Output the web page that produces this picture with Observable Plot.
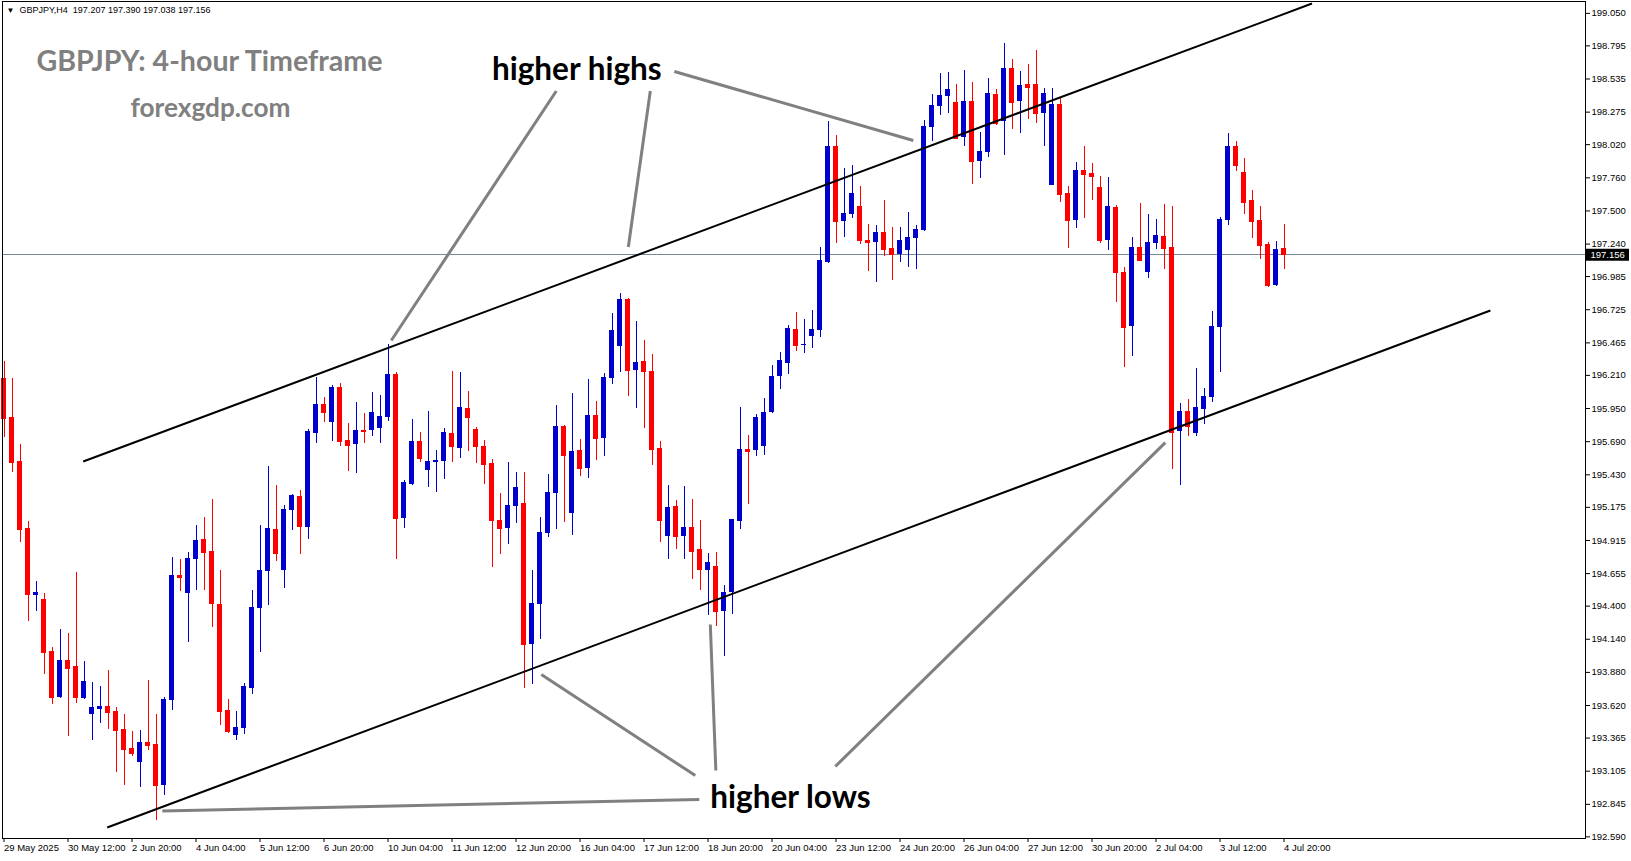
<!DOCTYPE html>
<html><head><meta charset="utf-8">
<script src="https://cdn.jsdelivr.net/npm/d3@7"></script>
<script src="https://cdn.jsdelivr.net/npm/@observablehq/plot@0.6"></script>
<style>html,body{margin:0;padding:0;background:#fff;} svg{display:block}</style>
</head><body><div id="chart"></div>
<script>
const opens = [196.188,195.882,195.534,195.009,194.486,194.452,194.044,193.685,193.973,193.926,193.678,193.552,193.591,193.612,193.576,193.434,193.285,193.175,193.332,193.317,192.995,193.662,194.643,194.501,194.768,194.925,194.831,194.415,193.583,193.387,193.442,193.756,194.384,194.674,195.001,194.679,195.150,195.262,195.019,195.756,195.982,195.843,196.115,195.699,195.670,195.780,195.780,195.796,195.882,196.219,195.090,195.354,195.691,195.466,195.529,195.534,195.754,195.639,195.953,195.785,195.654,195.519,195.074,195.011,195.184,195.205,194.101,194.415,194.972,195.286,195.811,195.129,195.623,195.482,195.898,195.717,196.188,196.439,196.805,196.251,196.319,196.241,195.636,194.948,195.184,194.948,195.019,194.846,194.682,194.713,194.360,194.509,195.066,195.631,195.623,195.654,195.921,196.200,196.300,196.570,196.447,196.517,196.564,197.098,198.006,197.420,197.475,197.535,197.271,197.255,197.331,197.205,197.158,197.192,197.286,197.349,198.157,198.322,198.400,198.351,198.079,198.359,197.890,197.961,198.414,198.204,198.618,198.361,198.492,198.492,198.267,197.702,198.335,197.637,197.427,197.817,197.794,197.684,197.271,197.527,197.020,196.596,197.213,197.020,197.245,197.300,197.213,195.772,195.929,195.756,195.945,196.039,196.588,197.427,198.008,197.804,197.584,197.427,197.239,196.918,197.207];
const highs = [196.321,196.188,195.668,195.064,194.595,194.501,194.078,194.219,194.185,194.664,193.965,193.801,193.769,193.895,193.605,193.552,193.419,193.426,193.819,193.552,193.683,194.784,194.768,194.823,195.035,195.098,195.239,194.682,193.670,193.576,193.795,194.525,195.035,195.495,195.349,195.192,195.273,195.307,195.788,196.196,196.039,196.133,196.146,195.833,196.000,195.913,196.078,196.055,196.452,196.230,195.388,195.864,195.762,195.927,195.621,195.796,196.243,196.235,196.086,195.800,195.699,195.550,195.286,195.527,195.448,195.448,194.682,195.098,195.432,195.974,195.820,196.070,195.709,196.180,196.008,196.225,196.698,196.855,196.810,196.635,196.486,196.374,195.691,195.346,195.231,195.338,195.239,195.074,194.815,194.823,194.564,195.082,195.960,195.741,195.906,196.031,196.290,196.390,196.601,196.703,196.648,196.719,197.213,198.204,198.092,197.835,197.859,197.694,197.396,197.388,197.584,197.373,197.373,197.490,197.388,198.212,198.416,198.581,198.589,198.492,198.602,198.508,198.115,198.539,198.453,198.814,198.688,198.594,198.651,198.759,198.461,198.461,198.390,197.694,197.880,198.006,197.872,197.770,197.762,197.540,197.059,197.292,197.558,197.472,197.433,197.551,197.535,195.992,196.023,196.266,196.109,196.714,197.451,198.110,198.047,197.914,197.663,197.537,197.255,197.263,197.390];
const lows = [195.725,195.451,194.897,194.282,194.360,193.861,193.626,193.678,193.379,193.634,193.670,193.348,193.481,193.434,193.097,192.993,193.223,192.979,193.270,192.720,192.917,193.583,194.517,194.117,194.525,194.525,194.230,193.466,193.400,193.348,193.395,193.709,194.038,194.405,194.752,194.541,194.993,194.807,194.923,195.678,195.843,195.694,195.654,195.458,195.443,195.678,195.733,195.678,195.851,194.768,195.011,195.349,195.527,195.333,195.294,195.393,195.527,195.560,195.615,195.519,195.356,194.705,194.807,194.886,195.050,193.756,193.787,194.140,194.941,195.003,195.058,194.956,195.419,195.403,195.545,195.576,196.141,196.235,196.047,195.953,195.796,195.505,194.901,194.768,194.846,194.768,194.611,194.525,194.329,194.242,194.007,194.337,195.003,195.199,195.576,195.584,195.910,196.100,196.220,196.400,196.380,196.420,196.510,197.090,197.247,197.294,197.443,197.239,197.027,196.941,197.145,196.957,197.096,197.059,197.043,197.340,198.047,198.249,198.267,198.061,198.008,197.710,197.757,197.922,198.173,197.937,198.141,198.110,198.220,198.188,198.008,197.700,197.569,197.208,197.365,197.443,197.584,197.247,197.192,196.784,196.274,196.361,197.106,196.972,197.200,197.043,195.474,195.349,195.733,195.733,195.827,196.000,196.235,197.388,197.812,197.475,197.286,197.122,196.902,196.910,197.038];
const closes = [195.874,195.529,195.003,194.493,194.507,194.038,193.685,193.973,193.913,193.685,193.809,193.605,193.612,193.568,193.426,193.278,193.246,193.332,193.309,192.995,193.670,194.643,194.627,194.776,194.917,194.823,194.418,193.576,193.419,193.450,193.772,194.391,194.679,195.011,194.815,195.158,195.265,195.025,195.772,195.982,195.921,196.117,195.694,195.660,195.780,195.772,195.921,195.887,196.219,195.090,195.372,195.691,195.560,195.534,195.540,195.762,195.654,195.960,195.882,195.654,195.513,195.069,195.011,195.189,195.331,194.101,194.423,194.980,195.291,195.811,195.584,195.615,195.482,195.898,195.717,196.196,196.565,196.805,196.251,196.311,196.243,195.631,195.074,195.176,194.948,195.019,194.831,194.690,194.744,194.360,194.509,195.082,195.631,195.615,195.882,195.921,196.200,196.330,196.580,196.447,196.450,196.570,197.111,198.006,197.420,197.480,197.637,197.271,197.255,197.331,197.200,197.156,197.268,197.292,197.355,198.163,198.327,198.406,198.453,198.066,198.359,197.890,197.966,198.421,198.188,198.618,198.353,198.484,198.471,198.267,198.421,198.335,197.631,197.427,197.817,197.788,197.773,197.271,197.535,197.020,196.588,197.213,197.114,197.253,197.307,197.208,195.764,195.929,195.811,195.960,196.047,196.596,197.435,198.008,197.859,197.569,197.420,197.231,196.918,197.200,197.156];

const xTickIndex = [0,8,16,24,32,40,48,56,64,72,80,88,96,104,112,120,128,136,144,152,160];
const xTickLabels = ["29 May 2025","30 May 12:00","2 Jun 20:00","4 Jun 04:00","5 Jun 12:00","6 Jun 20:00","10 Jun 04:00","11 Jun 12:00","12 Jun 20:00","16 Jun 04:00","17 Jun 12:00","18 Jun 20:00","20 Jun 04:00","23 Jun 12:00","24 Jun 20:00","26 Jun 04:00","27 Jun 12:00","30 Jun 20:00","2 Jul 04:00","3 Jul 12:00","4 Jul 20:00"];
const yTicks = [199.050,198.795,198.535,198.275,198.020,197.760,197.500,197.240,196.985,196.725,196.465,196.210,195.950,195.690,195.430,195.175,194.915,194.655,194.400,194.140,193.880,193.620,193.365,193.105,192.845,192.590];

const headerText = "GBPJPY,H4\u00a0\u00a0197.207 197.390 197.038 197.156";
const titleText = "GBPJPY: 4-hour Timeframe";
const subtitleText = "forexgdp.com";
const lastPrice = 197.156;

// channel lines [x1 (bar), y1 (price), x2, y2]
const channelLines = [
  [9.9, 195.534, 163.5, 199.127],
  [12.9, 192.663, 185.8, 196.719]
];
// pointer lines
const highPointers = [
  [69.04, 198.441, 48.41, 196.484],
  [80.79, 198.441, 78.04, 197.217],
  [83.79, 198.594, 113.66, 198.053]
];
const lowPointers = [
  [19.79, 192.793, 86.91, 192.883],
  [67.16, 193.863, 86.41, 193.071],
  [88.29, 194.256, 88.98, 193.110],
  [103.91, 193.142, 145.16, 195.683]
];
const annotations = [
  {text: "higher highs", x: 71.6, y: 198.610},
  {text: "higher lows", x: 98.3, y: 192.898}
];

const bars = opens.map((o, i) => ({i, o, h: highs[i], l: lows[i], c: closes[i]}));
const BULL = "#0000cc", BEAR = "#ff0000";
const col = d => d.c > d.o ? BULL : BEAR;
const half = 0.3125;
const xDomain = [-0.1875, 197.6875];
const labelMap = new Map(xTickIndex.map((v, k) => [v, xTickLabels[k]]));
const seg = {x1: d => d[0], y1: d => d[1], x2: d => d[2], y2: d => d[3]};

const chart = Plot.plot({
  width: 1631, height: 861,
  marginLeft: 2, marginRight: 46, marginTop: 1, marginBottom: 23,
  style: {fontFamily: "Liberation Sans, Arial, sans-serif", fontSize: "9.5px", background: "#fff", color: "#000"},
  x: {domain: xDomain},
  y: {domain: [192.577, 199.143]},
  color: {type: "identity"},
  marks: [
    Plot.ruleY([lastPrice], {stroke: "#778899", strokeWidth: 1, shapeRendering: "crispEdges"}),
    Plot.ruleX(bars, {x: "i", y1: "l", y2: "h", stroke: col, strokeWidth: 1, shapeRendering: "crispEdges"}),
    Plot.rect(bars, {x1: d => d.i - half, x2: d => d.i + half, y1: d => Math.min(d.o, d.c), y2: d => Math.max(d.o, d.c), fill: col, shapeRendering: "crispEdges"}),
    Plot.ruleY(bars, {y: "c", x1: d => d.i - half, x2: d => d.i + half, stroke: col, shapeRendering: "crispEdges"}),
    Plot.link(channelLines, {...seg, stroke: "#000", strokeWidth: 2}),
    Plot.link(highPointers, {...seg, stroke: "#808080", strokeWidth: 3}),
    Plot.link(lowPointers, {...seg, stroke: "#808080", strokeWidth: 3}),
    Plot.text(annotations, {x: "x", y: "y", text: "text", lineAnchor: "middle", fontFamily: "Lato", fontWeight: "bold", fontSize: 31.5, fill: "#000"}),
    Plot.text([titleText], {frameAnchor: "top-left", dx: 34, dy: 60, lineAnchor: "middle", textAnchor: "start", fontFamily: "Lato", fontWeight: "bold", fontSize: 28.6, fill: "#808080"}),
    Plot.text([subtitleText], {frameAnchor: "top-left", dx: 128, dy: 107, lineAnchor: "middle", textAnchor: "start", fontFamily: "Lato", fontWeight: "bold", fontSize: 26.2, fill: "#808080"}),
    Plot.text(["\u25BC"], {frameAnchor: "top-left", dx: 4, dy: 9, lineAnchor: "middle", textAnchor: "start", fontSize: 8, fill: "#000"}),
    Plot.text([headerText], {frameAnchor: "top-left", dx: 17, dy: 9, lineAnchor: "middle", textAnchor: "start", fontSize: 9, fill: "#000"}),
    Plot.frame({stroke: "#000", strokeWidth: 1, shapeRendering: "crispEdges"}),
    Plot.axisY(yTicks, {anchor: "right", tickSize: 4, tickPadding: 2, tickFormat: d => d.toFixed(3), label: null, fontSize: 9.5}),
    Plot.axisX(xTickIndex, {anchor: "bottom", tickSize: 4, tickPadding: 2, tickFormat: d => labelMap.get(d), textAnchor: "start", dx: 0, label: null, fontSize: 9.5}),
    Plot.ruleY([lastPrice], {x1: xDomain[1], x2: xDomain[1] + 5.5, stroke: "#000", strokeWidth: 12}),
    Plot.text([lastPrice], {x: xDomain[1], y: d => d, dx: 5, textAnchor: "start", text: d => d.toFixed(3), fill: "#fff", fontSize: 9.5})
  ]
});
document.getElementById("chart").appendChild(chart);
</script>
</body></html>
